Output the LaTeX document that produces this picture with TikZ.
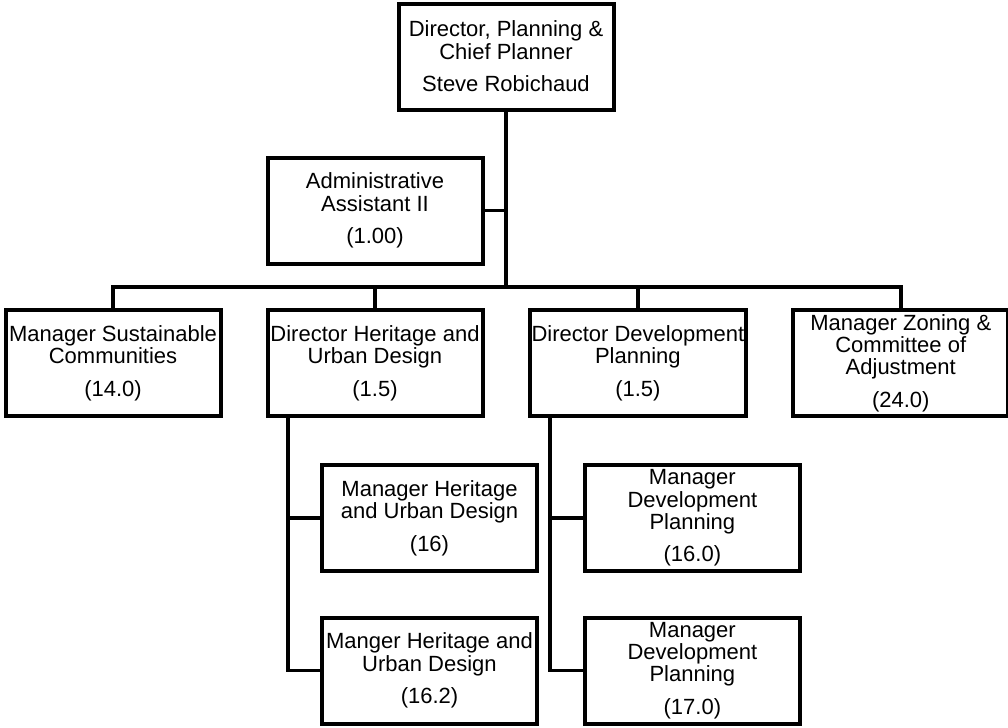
\documentclass[tikz,border=0pt]{standalone}
\usepackage{fontspec}
\setmainfont{Liberation Sans}
\usepackage{tikz}
\usetikzlibrary{shapes.geometric, arrows.meta, positioning}

\begin{document}
\begin{tikzpicture}[x=0.5pt,y=0.5pt]
		\tikzstyle{post} = [rectangle, minimum width=107.5pt, minimum height=53pt, inner sep=1pt, outer sep=0pt, align=center, draw=black, line width=2pt, font=\fontsize{11}{11.2}\selectfont]
		\tikzstyle{line} = [draw, line width=1.8pt]
		\useasboundingbox (0,0) rectangle (1008,-728);
		\node (director) [post] at (506,-56.5) {Director, Planning \&\\Chief Planner\\[5pt]Steve Robichaud};
		\node (admin) [post] at (375,-210.5) {Administrative\\Assistant II\\[5pt](1.00)};
		\node (sust) [post] at (113,-363) {Manager Sustainable\\Communities\\[5pt](14.0)};
		\node (heritage) [post, right=23.5pt of sust] {Director Heritage and\\Urban Design\\[5pt](1.5)};
		\node (devplan) [post, right=23.5pt of heritage] {Director Development\\Planning\\[5pt](1.5)};
		\node (zoning) [post, right=23.5pt of devplan] {Manager Zoning \&\\Committee of\\Adjustment\\[5pt](24.0)};
		\node (mgrheritage) [post, below=24.5pt of heritage, xshift=27.25pt] {Manager Heritage\\and Urban Design\\[5pt](16)};
		\node (mgrheritageb) [post, below=23.25pt of mgrheritage] {Manger Heritage and\\Urban Design\\[5pt](16.2)};
		\node (mgrdev) [post, below=24.5pt of devplan, xshift=27.25pt] {Manager\\Development\\Planning\\[5pt](16.0)};
		\node (mgrdevb) [post, below=23.25pt of mgrdev] {Manager\\Development\\Planning\\[5pt](17.0)};

		\coordinate (hub) at (506,-287);
		\coordinate (hstem) at ([xshift=10.25pt]heritage.south west);
		\coordinate (dstem) at ([xshift=10.25pt]devplan.south west);

		\path [line] (director) -- (hub);
		\path [line] (admin) -- (admin -| hub);
		\path [line] (sust) |- (hub) -| (zoning);
		\path [line] (heritage) -- (heritage |- hub);
		\path [line] (devplan) -- (devplan |- hub);
		\path [line] (hstem) |- (mgrheritageb.west);
		\path [line] (mgrheritage.west) -- (mgrheritage.west -| hstem);
		\path [line] (dstem) |- (mgrdevb.west);
		\path [line] (mgrdev.west) -- (mgrdev.west -| dstem);
		
	\end{tikzpicture}
\end{document}
